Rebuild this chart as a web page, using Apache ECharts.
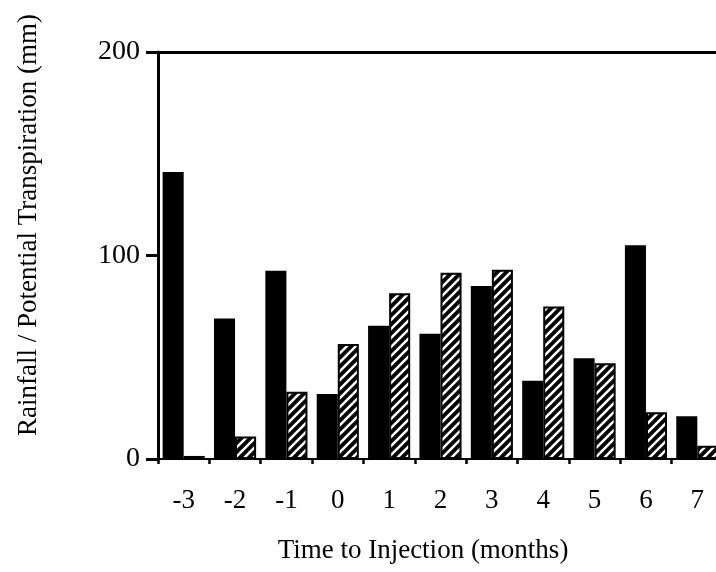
<!DOCTYPE html>
<html>
<head>
<meta charset="utf-8">
<script src="https://cdn.jsdelivr.net/npm/echarts@6/dist/echarts.min.js"></script>
<style>
  html, body { margin: 0; padding: 0; background: #fff; overflow: hidden; }
  #chart { width: 716px; height: 572px; }
</style>
</head>
<body>
<div id="chart"></div>
<script>
// Months relative to injection
const months = ['-3', '-2', '-1', '0', '1', '2', '3', '4', '5', '6', '7'];
// Monthly rainfall (mm), solid bars
const rainfall = [141, 69, 92.5, 32, 65.5, 61.5, 85, 38.5, 49.5, 105, 21];
// Potential transpiration (mm), hatched bars
const transpiration = [1.5, 11, 33, 56.5, 81.5, 91.5, 93, 75, 47, 23, 6.5];
// Value axis ticks
const yTicks = [0, 100, 200];

const FONT = '"Liberation Serif", "Times New Roman", serif';

// Diagonal white hatching on black
function hatchPattern() {
  const s = 9;
  const c = document.createElement('canvas');
  c.width = s; c.height = s;
  const g = c.getContext('2d');
  g.fillStyle = '#000';
  g.fillRect(0, 0, s, s);
  g.strokeStyle = '#fff';
  g.lineWidth = 2.6;
  g.beginPath();
  g.moveTo(-1, s + 1); g.lineTo(s + 1, -1);
  g.moveTo(-1, 1); g.lineTo(1, -1);
  g.moveTo(s - 1, s + 1); g.lineTo(s + 1, s - 1);
  g.stroke();
  return c;
}

const chart = echarts.init(document.getElementById('chart'), null, { renderer: 'canvas' });

chart.setOption({
  backgroundColor: '#fff',
  animation: false,
  // plot area runs slightly past the right edge of the page
  grid: {
    left: 158, top: 52, bottom: 113, width: 565,
    containLabel: false,
    outerBoundsMode: 'none'
  },
  xAxis: [{
    type: 'category',
    data: months,
    position: 'bottom',
    axisLine: { show: true, lineStyle: { color: '#000', width: 2 } },
    axisTick: { show: true, length: 5, lineStyle: { color: '#000', width: 2.5 } },
    axisLabel: {
      margin: 28,
      color: '#000',
      fontFamily: FONT,
      fontSize: 27
    },
    splitLine: { show: false }
  }, {
    type: 'category',
    data: months,
    position: 'top',
    axisLine: { show: true, lineStyle: { color: '#000', width: 3 } },
    axisTick: { show: false },
    axisLabel: { show: false }
  }],
  yAxis: {
    type: 'value',
    min: yTicks[0],
    max: yTicks[yTicks.length - 1],
    interval: 100,
    axisLine: { show: true, lineStyle: { color: '#000', width: 3 } },
    axisTick: { show: true, inside: false, length: 12, lineStyle: { color: '#000', width: 3 } },
    axisLabel: {
      margin: 18,
      color: '#000',
      fontFamily: FONT,
      fontSize: 28,
      padding: [0, 0, 14, 0]
    },
    splitLine: { show: false }
  },
  series: [{
    name: 'Rainfall',
    type: 'bar',
    data: rainfall,
    barGap: '0%',
    barCategoryGap: '18%',
    itemStyle: { color: '#000' }
  }, {
    name: 'Potential Transpiration',
    type: 'bar',
    data: transpiration,
    barGap: '0%',
    barCategoryGap: '18%',
    itemStyle: {
      color: { image: hatchPattern(), repeat: 'repeat' },
      borderColor: '#000',
      borderWidth: 2
    }
  }],
  graphic: [{
    type: 'text',
    x: 29,
    y: 225,
    rotation: Math.PI / 2,
    style: {
      text: 'Rainfall / Potential Transpiration (mm)',
      fontFamily: FONT,
      fontSize: 27,
      fill: '#000',
      align: 'center',
      verticalAlign: 'middle'
    }
  }, {
    type: 'text',
    x: 423,
    y: 551,
    style: {
      text: 'Time to Injection (months)',
      fontFamily: FONT,
      fontSize: 27,
      fill: '#000',
      align: 'center',
      verticalAlign: 'middle'
    }
  }]
});
</script>
</body>
</html>
